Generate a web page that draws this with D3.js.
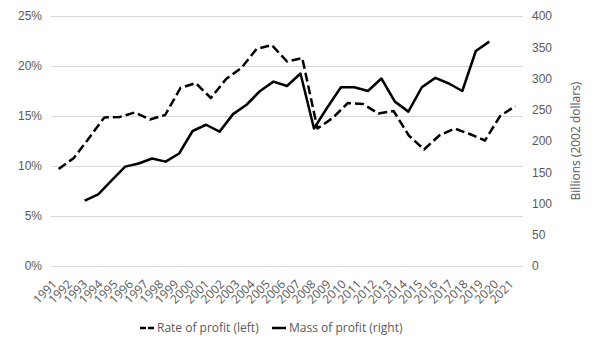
<!DOCTYPE html>
<html>
<head>
<meta charset="utf-8">
<script src="https://cdn.jsdelivr.net/npm/d3@7"></script>
<style>
  body { margin: 0; background: #fff; }
  svg { display: block; font-family: 'Open Sans', sans-serif; }
  .tick-label { fill: #595959; font-size: 12px; }
  .grid { stroke: #d9d9d9; stroke-width: 1; }
</style>
</head>
<body>
<div id="chart"></div>
<script>
(function() {
  var width = 600;
  var height = 360;

  // data
  var years = d3.range(1991, 2022);
  var rateOfProfit = [9.7, 10.8, 12.8, 14.85, 14.9, 15.35, 14.65, 15.1, 17.8, 18.3,
    16.8, 18.7, 19.8, 21.7, 22.1, 20.45, 20.8, 13.75, 14.8, 16.3,
    16.2, 15.25, 15.5, 13.05, 11.65, 13.05, 13.75, 13.2, 12.55, 15.0, 16.0];
  var massOfProfit = [104.5, 114.7, 137, 159, 164, 172, 167, 180, 216, 226,
    215, 243, 258, 280, 295, 288, 308, 220, 254, 286,
    286, 280, 300, 263, 247, 286, 301, 292, 280, 344, 359];
  var leftTicks = [0, 5, 10, 15, 20, 25];
  var rightTicks = [0, 50, 100, 150, 200, 250, 300, 350, 400];
  var seriesNames = ['Rate of profit (left)', 'Mass of profit (right)'];

  var plot = { left: 51, right: 523, top: 16, bottom: 266 };

  var svg = d3.select('#chart').append('svg').attr('width', width).attr('height', height);

  var x = d3.scaleBand().domain(years).range([plot.left, plot.right]);
  // the mass series sits on a hidden secondary category axis that is two slots wider on each side
  var x2 = d3.scaleBand().domain(d3.range(1989, 2024)).range([plot.left, plot.right]);
  var yLeft = d3.scaleLinear().domain([0, 25]).range([plot.bottom, plot.top]);
  var yRight = d3.scaleLinear().domain([0, 400]).range([plot.bottom, plot.top]);

  // gridlines
  svg.append('g').selectAll('line')
    .data(leftTicks)
    .enter()
    .append('line')
    .attr('class', 'grid')
    .attr('x1', plot.left)
    .attr('x2', plot.right)
    .attr('y1', function(d) { return Math.round(yLeft(d)) + 0.5; })
    .attr('y2', function(d) { return Math.round(yLeft(d)) + 0.5; });

  // left axis
  var leftAxis = svg.append('g')
    .attr('transform', 'translate(' + plot.left + ',0)')
    .call(d3.axisLeft(yLeft).tickValues(leftTicks).tickSize(0).tickPadding(9)
      .tickFormat(function(d) { return d + '%'; }));
  leftAxis.select('.domain').remove();
  leftAxis.selectAll('text').attr('class', 'tick-label').attr('font-family', null).attr('font-size', null);

  // right axis
  var rightAxis = svg.append('g')
    .attr('transform', 'translate(' + plot.right + ',0)')
    .call(d3.axisRight(yRight).tickValues(rightTicks).tickSize(0).tickPadding(9));
  rightAxis.select('.domain').remove();
  rightAxis.selectAll('text').attr('class', 'tick-label').attr('font-family', null).attr('font-size', null);

  svg.append('text')
    .attr('class', 'tick-label')
    .attr('transform', 'translate(580,' + ((plot.top + plot.bottom) / 2) + ') rotate(-90)')
    .attr('text-anchor', 'middle')
    .attr('font-size', '13px')
    .text('Billions (2002 dollars)');

  // bottom category labels
  svg.append('g').selectAll('text')
    .data(years)
    .enter()
    .append('text')
    .attr('class', 'tick-label')
    .attr('text-anchor', 'end')
    .attr('transform', function(d) {
      return 'translate(' + (x(d) + x.bandwidth() / 2 - 1) + ',' + (plot.bottom + 19) + ') rotate(-45)';
    })
    .text(function(d) { return d; });

  // lines
  var rateLine = d3.line()
    .x(function(d, i) { return x(years[i]) + x.bandwidth() / 2; })
    .y(function(d) { return yLeft(d); });
  var massLine = d3.line()
    .x(function(d, i) { return x2(years[i]) + x2.bandwidth() / 2; })
    .y(function(d) { return yRight(d); });

  svg.append('path')
    .datum(massOfProfit)
    .attr('d', massLine)
    .attr('fill', 'none')
    .attr('stroke', '#000')
    .attr('stroke-width', 2.5)
    .attr('stroke-linejoin', 'round');

  svg.append('path')
    .datum(rateOfProfit)
    .attr('d', rateLine)
    .attr('fill', 'none')
    .attr('stroke', '#000')
    .attr('stroke-width', 2.5)
    .attr('stroke-dasharray', '9,4')
    .attr('stroke-linejoin', 'round');

  // legend
  var legendItems = [
    { name: seriesNames[0], x: 140, dash: '6,2' },
    { name: seriesNames[1], x: 272, dash: null }
  ];
  var legend = svg.append('g').selectAll('g')
    .data(legendItems)
    .enter()
    .append('g')
    .attr('transform', function(d) { return 'translate(' + d.x + ',328)'; });
  legend.append('line')
    .attr('x1', 0)
    .attr('x2', 14)
    .attr('stroke', '#000')
    .attr('stroke-width', 2.5)
    .attr('stroke-dasharray', function(d) { return d.dash; });
  legend.append('text')
    .attr('class', 'tick-label')
    .attr('x', 17)
    .attr('dy', '0.35em')
    .text(function(d) { return d.name; });
})();
</script>
</body>
</html>
